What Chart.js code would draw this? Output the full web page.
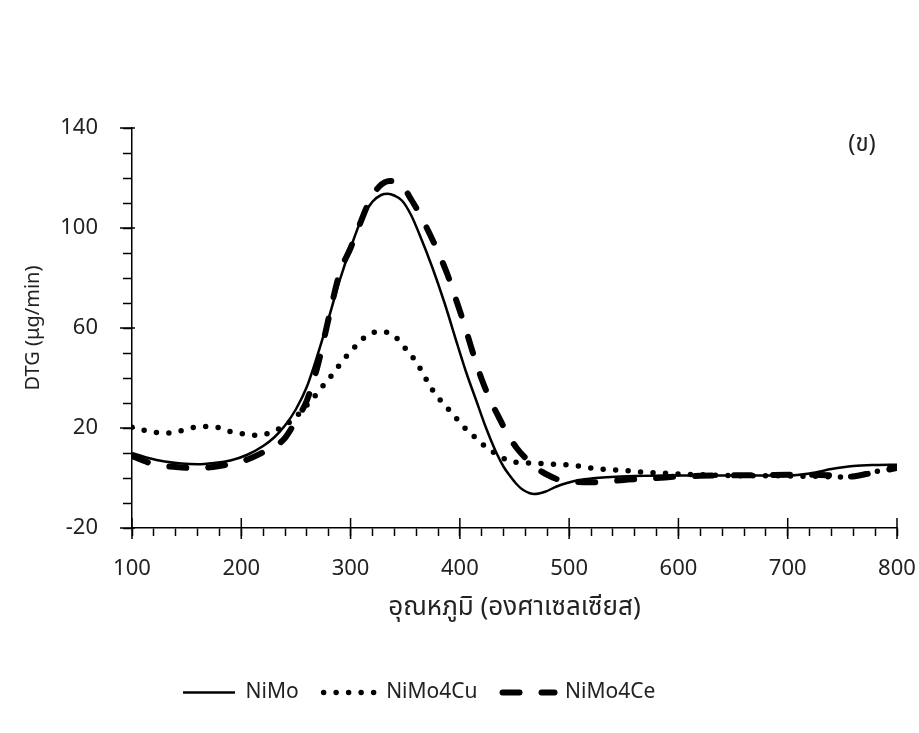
<!DOCTYPE html>
<html>
<head>
<meta charset="utf-8">
<script src="https://cdn.jsdelivr.net/npm/chart.js@4.4.1/dist/chart.umd.min.js"></script>
<style>
    html, body { margin: 0; padding: 0; background: #fff; }
    #wrap { width: 919px; height: 733px; }
</style>
</head>
<body>
<div id="wrap"><canvas id="dtgChart" width="919" height="733"></canvas></div>
<script>
// DTG curves: temperature (deg C) vs DTG (ug/min)
const nimoTemp = [100, 115, 130, 145, 160, 175, 190, 205, 220, 230, 240, 250, 260, 270, 280, 290, 300, 310, 320, 328, 334, 340, 347, 355, 363, 375, 386, 398, 406, 415, 424, 433, 440, 446, 452, 458, 468, 478, 488, 498, 509, 522, 534, 560, 600, 650, 700, 720, 740, 760, 780, 800];
const nimoDtg = [10, 8, 6.6, 5.8, 5.5, 6, 7, 9.2, 12.8, 16.2, 21, 27.5, 36.5, 49.5, 64, 79, 92, 103.5, 110.5, 113.2, 113.7, 113, 111, 105.5, 97.5, 84, 70, 53, 42, 31, 20, 10.5, 4.5, 0.8, -2.5, -4.8, -6.4, -5.5, -3.5, -2, -0.8, -0.1, 0.3, 0.8, 1, 1, 1, 1.8, 3.6, 4.8, 5.2, 5.3];

const cuTemp = [100, 110, 120, 130, 140, 150, 160, 170, 180, 190, 200, 210, 220, 230, 240, 250, 262, 270, 277, 285, 292, 300, 308, 317, 328, 340, 348, 356, 363, 369, 375, 383, 391, 399, 407, 416, 425, 435, 445, 457, 470, 482, 494, 506, 518, 530, 542, 555, 567, 580, 600, 620, 640, 660, 680, 700, 720, 740, 755, 770, 785, 800];
const cuDtg = [20.3, 19.2, 18.3, 17.9, 18.3, 19.6, 20.4, 20.6, 20.1, 18.6, 17.8, 17.1, 17.3, 18.8, 21, 24.5, 30.1, 34.2, 38.1, 42.3, 46.5, 50.5, 54.3, 57.6, 58.6, 56.8, 52.9, 48.8, 44.3, 39.6, 35.2, 30.7, 26.8, 22.8, 18.9, 15.5, 11.9, 9.2, 6.8, 6.1, 5.9, 5.5, 5.4, 4.9, 4.1, 3.5, 3.2, 2.9, 2.3, 2.1, 1.6, 1.3, 1, 0.9, 0.9, 0.8, 0.7, 0.5, 0.4, 1.5, 3, 4.6];

const ceTemp = [100, 110, 120, 130, 140, 150, 160, 170, 180, 190, 200, 210, 220, 230, 240, 250, 260, 270, 280, 290, 300, 308, 316, 326, 336, 345, 356, 364, 372, 380, 389, 396, 404, 412, 420, 428, 436, 445, 452, 460, 470, 480, 490, 505, 520, 535, 550, 565, 580, 600, 620, 640, 660, 680, 700, 720, 740, 755, 770, 785, 800];
const ceDtg = [8.8, 7, 5.5, 4.8, 4.4, 4.1, 4, 4.2, 4.8, 5.6, 6.6, 8.2, 10.3, 12.5, 16, 23, 31, 45, 64, 82, 92, 101, 109.5, 116.5, 118.8, 118, 111, 105, 98, 90.5, 81, 72, 61.5, 50, 39.5, 31, 24, 16.5, 12, 8, 4, 1.3, -0.6, -1.5, -1.7, -1.4, -0.8, -0.4, 0, 0.6, 0.9, 1, 1.1, 1.2, 1.3, 1.3, 1, 0.5, 1.4, 2.7, 4];

const seriesNames = ['NiMo', 'NiMo4Cu', 'NiMo4Ce'];
const xMin = 100, xMax = 800, xStep = 20, xLabelStep = 100;
const yMin = -20, yMax = 140, yStep = 10, yLabelStep = 40;
const panelLabel = '(ข)';
const xTitle = 'อุณหภูมิ (องศาเซลเซียส)';
const yTitle = 'DTG (μg/min)';

const FONT = "'Noto Sans', 'Noto Sans Thai', sans-serif";
const legendStartX = 183;

function toPoints(xs, ys) {
    return xs.map((x, i) => ({ x: x, y: ys[i] }));
}

// longer major ticks, legend placement and the panel label
const extrasPlugin = {
    id: 'extras',
    beforeDraw(chart) {
        const lg = chart.legend;
        if (lg) lg.left = legendStartX - lg.options.labels.padding;
    },
    afterDraw(chart) {
        const ctx = chart.ctx;
        const xs = chart.scales.x;
        const ys = chart.scales.y;
        const area = chart.chartArea;
        ctx.save();
        ctx.strokeStyle = '#000';
        ctx.lineWidth = 1.5;
        for (let v = xMin; v <= xMax; v += xLabelStep) {
            const px = xs.getPixelForValue(v);
            ctx.beginPath();
            ctx.moveTo(px, area.bottom - 10);
            ctx.lineTo(px, area.bottom + 11);
            ctx.stroke();
        }
        for (let v = yMin; v <= yMax; v += yLabelStep) {
            const py = ys.getPixelForValue(v);
            ctx.beginPath();
            ctx.moveTo(area.left - 12, py);
            ctx.lineTo(area.left + 3, py);
            ctx.stroke();
        }
        ctx.fillStyle = '#222';
        ctx.font = '24px ' + FONT;
        ctx.textAlign = 'center';
        ctx.textBaseline = 'middle';
        ctx.fillText(panelLabel, area.right - 35, area.top + 16);
        ctx.restore();
    }
};

const ctx = document.getElementById('dtgChart');
const chart = new Chart(ctx, {
    type: 'line',
    data: {
        datasets: [
            {
                label: seriesNames[0],
                data: toPoints(nimoTemp, nimoDtg),
                borderColor: '#000',
                backgroundColor: '#000',
                borderWidth: 2.5,
                pointStyle: 'line'
            },
            {
                label: seriesNames[1],
                data: toPoints(cuTemp, cuDtg),
                borderColor: '#000',
                backgroundColor: '#000',
                borderWidth: 5.5,
                borderDash: [0, 12.5],
                borderCapStyle: 'round',
                pointStyle: 'line'
            },
            {
                label: seriesNames[2],
                data: toPoints(ceTemp, ceDtg),
                borderColor: '#000',
                backgroundColor: '#000',
                borderWidth: 6,
                borderDash: [17, 22],
                borderCapStyle: 'round',
                pointStyle: 'line'
            }
        ]
    },
    options: {
        responsive: false,
        animation: false,
        devicePixelRatio: 1,
        layout: { padding: { left: 0, right: 22, top: 128, bottom: 20 } },
        elements: {
            point: { radius: 0, hoverRadius: 0 },
            line: { cubicInterpolationMode: 'monotone', fill: false }
        },
        plugins: {
            tooltip: { enabled: false },
            legend: {
                position: 'bottom',
                align: 'start',
                labels: {
                    usePointStyle: true,
                    pointStyleWidth: 52,
                    padding: 25,
                    color: '#222',
                    font: { family: FONT, size: 21 },
                    generateLabels(chart) {
                        const items = Chart.defaults.plugins.legend.labels.generateLabels(chart);
                        items.forEach(item => {
                            const ds = chart.data.datasets[item.datasetIndex];
                            item.lineDash = ds.borderDash || [];
                            item.lineCap = ds.borderCapStyle || 'butt';
                            item.lineWidth = ds.borderWidth;
                        });
                        return items;
                    }
                }
            }
        },
        scales: {
            x: {
                type: 'linear',
                min: xMin,
                max: xMax,
                afterFit(scale) {
                    scale.height = 129;
                    scale.paddingLeft = 0;
                    scale.paddingRight = 0;
                },
                border: { display: true, color: '#000', width: 1.5 },
                grid: { drawOnChartArea: false, drawTicks: true, tickLength: 8, tickColor: '#000', tickWidth: 1.5 },
                ticks: {
                    stepSize: xStep,
                    autoSkip: false,
                    maxRotation: 0,
                    padding: 20,
                    color: '#222',
                    font: { family: FONT, size: 22 },
                    callback: v => (v % xLabelStep === 0 ? String(v) : '')
                },
                title: {
                    display: true,
                    text: xTitle,
                    color: '#222',
                    font: { family: FONT, size: 26 },
                    padding: { top: 0, bottom: 34 }
                }
            },
            y: {
                type: 'linear',
                min: yMin,
                max: yMax,
                afterFit(scale) {
                    scale.width = 132;
                    scale.paddingTop = 0;
                    scale.paddingBottom = 0;
                },
                border: { display: true, color: '#000', width: 1.5 },
                grid: { drawOnChartArea: false, drawTicks: true, tickLength: 9, tickColor: '#000', tickWidth: 1.5 },
                ticks: {
                    stepSize: yStep,
                    autoSkip: false,
                    padding: 25,
                    color: '#222',
                    font: { family: FONT, size: 22 },
                    callback: v => ((v - yMin) % yLabelStep === 0 ? String(v) : '')
                },
                title: {
                    display: true,
                    text: yTitle,
                    color: '#222',
                    font: { family: FONT, size: 20 },
                    padding: { top: 21, bottom: 0 }
                }
            }
        }
    },
    plugins: [extrasPlugin]
});
</script>
</body>
</html>
